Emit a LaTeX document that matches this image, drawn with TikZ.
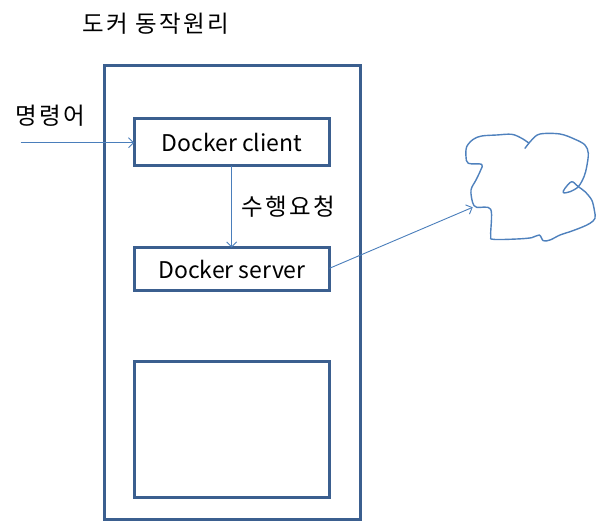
\documentclass[tikz,border=0pt]{standalone}
\usepackage{fontspec}
\setmainfont{Noto Sans CJK KR}
\newfontfamily\krwide[LetterSpace=10]{Noto Sans CJK KR}
\usetikzlibrary{arrows.meta}
\definecolor{boxblue}{HTML}{3B5F8F}
\definecolor{linkblue}{HTML}{4A7EBB}
\definecolor{cloudblue}{HTML}{4F81BD}
\begin{document}
\begin{tikzpicture}[x=1pt,y=-1pt,
  boxstyle/.style={draw=boxblue,line width=3pt,rectangle,inner sep=0pt,outer sep=0pt},
  lbl/.style={inner sep=0pt,outer sep=0pt,font=\krwide\fontsize{23.5}{28}\selectfont},
  boxtext/.style={font=\fontsize{23}{27}\selectfont},
  link/.style={draw=linkblue,line width=0.9pt,-{Straight Barb[length=5pt,width=10pt]}},
  cloudline/.style={draw=cloudblue,line width=1.4pt,line cap=round,line join=round}]
\useasboundingbox (0,0) rectangle (596,521);
\node[boxstyle,minimum width=256pt,minimum height=453pt] (outer) at (232,292.5) {};
\node[boxstyle,boxtext,minimum width=195.7pt,minimum height=46.7pt] (client) at (232,142.3) {Docker client};
\node[boxstyle,boxtext,minimum width=195pt,minimum height=43pt] (server) at (232,269) {Docker server};
\node[boxstyle,minimum width=195pt,minimum height=136pt] (engine) at (232,429) {};
\node[lbl,anchor=west] (title) at (82.5,24) {도커 동작원리};
\node[lbl,anchor=west] (cmd) at (16,116) {명령어};
\node[lbl,anchor=west] (req) at (241.5,207) {수행요청};
\coordinate (cmdstart) at (20.5,142.7);
\coordinate (cloudin) at (472.7,207.3);
\draw[link] (cmdstart) -- (cmdstart -| client.west);
\draw[link] (client.south -| 231.7,0) -- (server.north -| 231.7,0);
\draw[link] (server.east |- 0,268.3) -- (cloudin);
% cloud
\draw[cloudline] plot[smooth,tension=0.55] coordinates {
 (528.3,142.7) (521.7,138.3) (511.7,134.3) (496.7,135) (481.7,136) (473.3,139.3)
 (466.7,146.7) (466,156.7) (468.3,163.3) (481.7,164.3) (480.7,170) (476,180)
 (471,190) (472.7,202.7) (476.7,207.3) (490.7,209.3) (490.7,235) (493.3,239.3)
 (516.7,239) (531.7,237.7) (539.3,235) (543.3,240.7) (550,240) (560,235)
 (570,231.7) (581.7,227.3) (590,223.3) (595,218.3) (594.3,210) (591.7,200)
 (585,191.7) (578.3,186.7) (571.7,181.7) (565,188.3) (563.3,192.7) (570,191.7)
 (578.3,186.7) (584,176.7) (586.7,166.7) (588.3,153.3) (585,145) (575,139.3)
 (560,134) (540,134) (531.7,140) (525,148.3)};
\end{tikzpicture}
\end{document}
